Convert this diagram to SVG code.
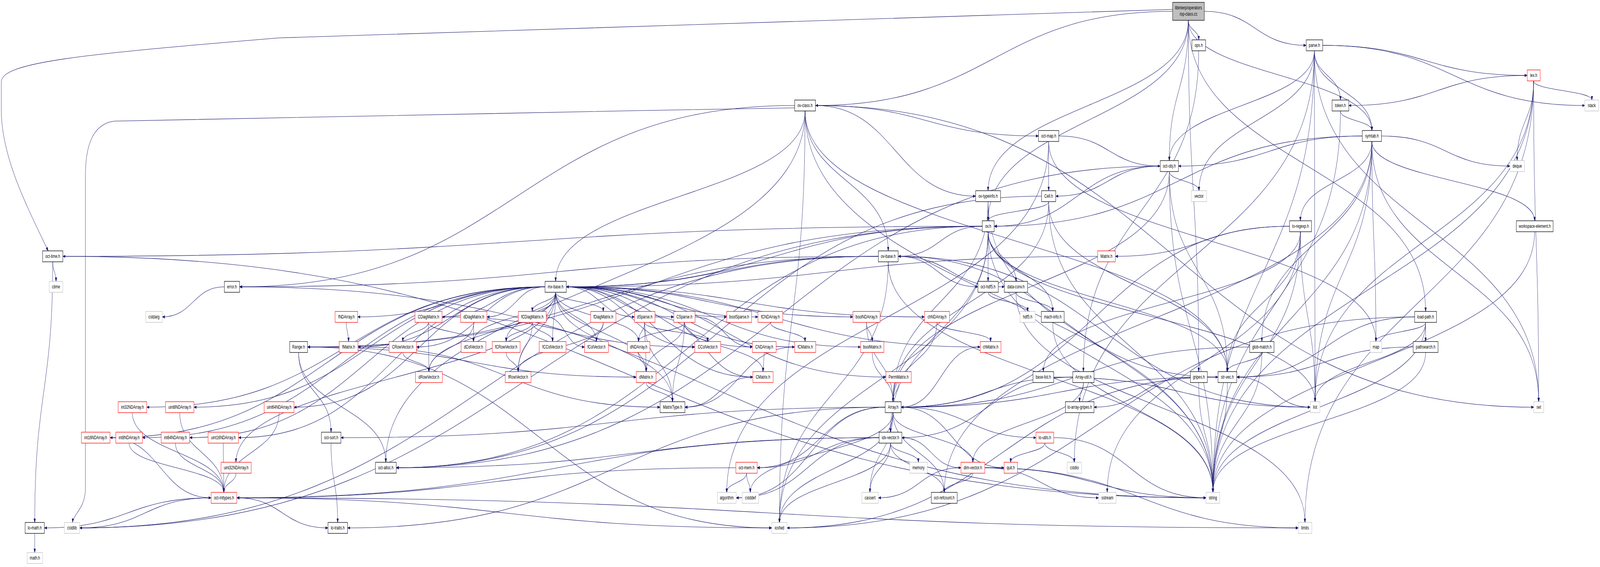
<svg xmlns="http://www.w3.org/2000/svg" width="6312" height="1451" viewBox="0 0 6312 1451" preserveAspectRatio="none" style="width:100vw;height:100vh;display:block">
<style>
.e path{fill:none;stroke:#191970;stroke-width:1.1;marker-end:url(#a)}
.nd rect{fill:#fff;stroke:#000;stroke-width:1.3}
.nd.r rect{stroke:#ff0000}
.nd.g rect{stroke:#bfbfbf}
.nd.top rect{fill:#bfbfbf}
text{font-family:"Liberation Sans",Arial,sans-serif;font-size:13.3px;fill:#000;text-anchor:middle}
</style>
<defs>
<marker id="a" markerUnits="userSpaceOnUse" markerWidth="11" markerHeight="8" refX="10" refY="4" orient="auto"><path d="M0,0.5 L10,4 L0,7.5 z" fill="#191970" stroke="#191970" stroke-width="1"/></marker>
</defs>
<rect width="6312" height="1451" fill="#fff"/>
<g id="edges" class="e">
<path d="M4626,24 L1100,97 C300,140 5,160 5,210 L5,280 C5,400 100,520 190,642"/>
<path d="M4688,52 C4688,502 4729,502 4729,951"/>
<path d="M4688,52 C4688,424 5624,424 5624,797"/>
<path d="M4688,52 C4688,231 4613,231 4613,411"/>
<path d="M4688,52 C4688,308 3898,308 3898,565"/>
<path d="M4626,29 C3921,29 3921,270 3217,270"/>
<path d="M4688,52 C4688,270 3898,270 3898,488"/>
<path d="M4688,52 C4688,77 4729,77 4729,102"/>
<path d="M4688,52 C4688,193 5412,193 5412,334"/>
<path d="M4751,29 C4952,29 4952,116 5153,116"/>
<path d="M4729,130 C4729,540 4274,540 4274,951"/>
<path d="M5218,116 C5621,116 5621,193 6025,193"/>
<path d="M5185,130 C5185,193 5288,193 5288,256"/>
<path d="M5185,130 C5185,232 5412,232 5412,334"/>
<path d="M5218,116 C5735,116 5735,270 6252,270"/>
<path d="M5185,130 C5185,270 4613,270 4613,411"/>
<path d="M5185,130 C5185,309 4730,309 4730,488"/>
<path d="M5185,130 C5185,656 4238,656 4238,1183"/>
<path d="M5185,130 C5185,695 4785,695 4785,1260"/>
<path d="M5185,130 C5185,579 5188,579 5188,1028"/>
<path d="M5185,130 C5185,579 6070,579 6070,1028"/>
<path d="M6025,193 C5673,193 5673,270 5321,270"/>
<path d="M6050,207 C6050,309 5985,309 5985,411"/>
<path d="M6050,207 C6050,232 6280,232 6280,256"/>
<path d="M6050,207 C6050,617 6070,617 6070,1028"/>
<path d="M6050,207 C6050,772 5148,772 5148,1337"/>
<path d="M6050,207 C6050,617 5188,617 5188,1028"/>
<path d="M6050,207 C6050,733 4785,733 4785,1260"/>
<path d="M5288,284 C5288,309 5412,309 5412,334"/>
<path d="M5288,284 C5288,772 4785,772 4785,1260"/>
<path d="M5450,348 C5703,348 5703,425 5957,425"/>
<path d="M5412,362 C5412,695 5188,695 5188,1028"/>
<path d="M5412,362 C5412,618 5428,618 5428,874"/>
<path d="M5412,362 C5412,695 6070,695 6070,1028"/>
<path d="M5412,362 C5412,811 4785,811 4785,1260"/>
<path d="M5412,362 C5412,618 4978,618 4978,874"/>
<path d="M5412,362 C5412,463 5130,463 5130,565"/>
<path d="M5374,348 C5011,348 5011,425 4649,425"/>
<path d="M5412,362 C5412,463 6054,463 6054,565"/>
<path d="M5412,362 C5412,811 3725,811 3725,1260"/>
<path d="M5374,348 C4648,348 4648,579 3922,579"/>
<path d="M4137,362 L4137,488"/>
<path d="M4177,348 C4377,348 4377,425 4577,425"/>
<path d="M4137,362 C4137,811 2867,811 2867,1260"/>
<path d="M4137,362 C4137,618 5428,618 5428,874"/>
<path d="M4613,439 C4613,849 4785,849 4785,1260"/>
<path d="M4613,439 C4613,463 4730,463 4730,488"/>
<path d="M4577,425 C3070,425 3070,1197 1563,1197"/>
<path d="M4613,439 C4613,695 4842,695 4842,951"/>
<path d="M4613,439 C4613,733 3523,733 3523,1028"/>
<path d="M4577,425 C4250,425 4250,579 3922,579"/>
<path d="M4577,425 C4371,425 4371,502 4165,502"/>
<path d="M3898,516 C3898,888 4785,888 4785,1260"/>
<path d="M3898,516 C3898,772 3523,772 3523,1028"/>
<path d="M3898,516 L3898,565"/>
<path d="M4137,516 C4137,888 4785,888 4785,1260"/>
<path d="M4137,516 C4137,772 3523,772 3523,1028"/>
<path d="M4109,502 C2836,502 2836,1197 1563,1197"/>
<path d="M4137,516 C4137,733 4842,733 4842,951"/>
<path d="M4137,516 C4137,540 3898,540 3898,565"/>
<path d="M3875,579 C2094,579 2094,1351 314,1351"/>
<path d="M3898,593 C3898,965 3075,965 3075,1337"/>
<path d="M3898,593 C3898,926 4785,926 4785,1260"/>
<path d="M3898,593 C3898,810 5188,810 5188,1028"/>
<path d="M3875,579 C2544,579 2544,888 1213,888"/>
<path d="M3898,593 C3898,656 4008,656 4008,720"/>
<path d="M3898,593 C3898,849 3513,849 3513,1106"/>
<path d="M3898,593 C3898,695 4153,695 4153,797"/>
<path d="M3875,579 C3054,579 3054,734 2234,734"/>
<path d="M3875,579 C2719,579 2719,1197 1563,1197"/>
<path d="M3875,579 C2061,579 2061,656 248,656"/>
<path d="M3898,593 C3898,772 4842,772 4842,951"/>
<path d="M3898,593 L3898,720"/>
<path d="M3875,579 C3709,579 3709,656 3543,656"/>
<path d="M3135,276 C2000,290 600,300 450,310 C360,318 337,380 337,450 L337,1250 C337,1300 290,1315 286,1337"/>
<path d="M3176,284 C3176,810 3075,810 3075,1337"/>
<path d="M3176,284 C3176,772 4785,772 4785,1260"/>
<path d="M3176,284 C3176,502 2192,502 2192,720"/>
<path d="M3176,284 C3176,617 4842,617 4842,951"/>
<path d="M3135,270 C2040,270 2040,734 945,734"/>
<path d="M3176,284 C3176,733 1522,733 1522,1183"/>
<path d="M3217,270 C3657,270 3657,348 4097,348"/>
<path d="M3176,284 C3176,463 3504,463 3504,642"/>
<path d="M3217,270 C3533,270 3533,502 3849,502"/>
<path d="M3217,270 C4634,270 4634,1042 6051,1042"/>
<path d="M5130,593 C5130,810 5188,810 5188,1028"/>
<path d="M5130,593 C5130,926 4368,926 4368,1260"/>
<path d="M5130,593 C5130,926 4785,926 4785,1260"/>
<path d="M5087,579 C4321,579 4321,1042 3555,1042"/>
<path d="M5087,579 C4743,579 4743,656 4400,656"/>
<path d="M5130,593 C5130,772 4116,772 4116,951"/>
<path d="M5130,593 C5130,772 4842,772 4842,951"/>
<path d="M6054,593 C6054,926 4785,926 4785,1260"/>
<path d="M208,670 C208,695 221,695 221,720"/>
<path d="M248,656 C2503,656 2503,1274 4758,1274"/>
<path d="M208,670 C208,1003 137,1003 137,1337"/>
<path d="M3465,656 C1890,656 1890,1351 314,1351"/>
<path d="M3504,670 C3504,1003 3075,1003 3075,1337"/>
<path d="M3543,656 C4356,656 4356,1042 5169,1042"/>
<path d="M3504,670 C3504,965 4785,965 4785,1260"/>
<path d="M3465,656 C2339,656 2339,888 1213,888"/>
<path d="M3543,656 C3752,656 3752,734 3962,734"/>
<path d="M3465,656 C2849,656 2849,734 2234,734"/>
<path d="M3543,656 C4174,656 4174,965 4805,965"/>
<path d="M3465,656 C2205,656 2205,734 945,734"/>
<path d="M3543,656 C3700,656 3700,734 3858,734"/>
<path d="M4330,656 C3282,656 3282,734 2234,734"/>
<path d="M885,734 C762,734 762,811 640,811"/>
<path d="M945,734 C2851,734 2851,1274 4758,1274"/>
<path d="M2192,748 C2192,888 2653,888 2653,1028"/>
<path d="M2234,734 C2814,734 2814,888 3395,888"/>
<path d="M2234,734 C3050,734 3050,888 3867,888"/>
<path d="M2192,748 C2192,849 2549,849 2549,951"/>
<path d="M2234,734 C2602,734 2602,965 2970,965"/>
<path d="M2150,734 C1781,734 1781,888 1412,888"/>
<path d="M2234,734 C2684,734 2684,888 3135,888"/>
<path d="M2192,748 C2192,811 1868,811 1868,874"/>
<path d="M2234,734 C2487,734 2487,888 2741,888"/>
<path d="M2192,748 C2192,811 2353,811 2353,874"/>
<path d="M2192,748 C2192,811 2180,811 2180,874"/>
<path d="M2192,748 C2192,849 1692,849 1692,951"/>
<path d="M2150,734 C1896,734 1896,888 1643,888"/>
<path d="M2192,748 C2192,849 2044,849 2044,951"/>
<path d="M2192,748 C2192,811 1997,811 1997,874"/>
<path d="M2150,734 C2035,734 2035,811 1921,811"/>
<path d="M2150,734 C1947,734 1947,811 1744,811"/>
<path d="M2192,748 C2192,772 2380,772 2380,797"/>
<path d="M2192,748 C2192,772 2100,772 2100,797"/>
<path d="M2234,734 C2864,734 2864,965 3495,965"/>
<path d="M2234,734 C2799,734 2799,811 3365,811"/>
<path d="M2234,734 C2940,734 2940,811 3647,811"/>
<path d="M2192,748 C2192,811 2519,811 2519,874"/>
<path d="M2234,734 C2601,734 2601,888 2968,888"/>
<path d="M2150,734 C1780,734 1780,811 1411,811"/>
<path d="M2234,734 C2612,734 2612,811 2990,811"/>
<path d="M2150,734 C1356,734 1356,1120 562,1120"/>
<path d="M2150,734 C1292,734 1292,1120 434,1120"/>
<path d="M2150,734 C1365,734 1365,1042 579,1042"/>
<path d="M2150,734 C1449,734 1449,1120 748,1120"/>
<path d="M2150,734 C1458,734 1458,1042 765,1042"/>
<path d="M2150,734 C1546,734 1546,1120 941,1120"/>
<path d="M2192,748 C2192,965 931,965 931,1183"/>
<path d="M2150,734 C1655,734 1655,1042 1160,1042"/>
<path d="M2234,734 C2551,734 2551,811 2867,811"/>
<path d="M2234,734 C2369,734 2369,811 2503,811"/>
<path d="M2234,734 C2446,734 2446,811 2658,811"/>
<path d="M3898,748 C3898,772 4054,772 4054,797"/>
<path d="M4008,748 C4008,1042 5148,1042 5148,1337"/>
<path d="M4008,748 C4008,772 4153,772 4153,797"/>
<path d="M4153,825 C4153,1042 4785,1042 4785,1260"/>
<path d="M1366,825 C1366,849 1375,849 1375,874"/>
<path d="M1690,825 C1690,849 1589,849 1589,874"/>
<path d="M1690,825 C1690,888 1692,888 1692,951"/>
<path d="M1690,825 C1690,849 1868,849 1868,874"/>
<path d="M1744,811 C2242,811 2242,888 2741,888"/>
<path d="M1869,825 L1868,874"/>
<path d="M1869,825 C1869,888 1692,888 1692,951"/>
<path d="M2100,825 C2100,849 1997,849 1997,874"/>
<path d="M2100,825 C2100,888 2044,888 2044,951"/>
<path d="M2100,825 C2100,849 2180,849 2180,874"/>
<path d="M2155,811 C2230,811 2230,888 2306,888"/>
<path d="M2380,825 C2380,849 2353,849 2353,874"/>
<path d="M2380,825 C2380,888 2044,888 2044,951"/>
<path d="M2543,825 C2543,849 2519,849 2519,874"/>
<path d="M2543,825 C2543,888 2549,888 2549,951"/>
<path d="M2543,825 C2543,926 2653,926 2653,1028"/>
<path d="M2543,825 C2543,849 2792,849 2792,874"/>
<path d="M2584,811 C2777,811 2777,965 2970,965"/>
<path d="M2700,825 C2700,849 2519,849 2519,874"/>
<path d="M2700,825 C2700,849 2792,849 2792,874"/>
<path d="M2700,825 C2700,888 2549,888 2549,951"/>
<path d="M2700,825 C2700,926 2653,926 2653,1028"/>
<path d="M2742,811 C2855,811 2855,888 2968,888"/>
<path d="M2700,825 C2700,888 3010,888 3010,951"/>
<path d="M3039,825 C3039,849 3176,849 3176,874"/>
<path d="M3418,825 C3418,849 3441,849 3441,874"/>
<path d="M3418,825 C3418,926 3523,926 3523,1028"/>
<path d="M3696,825 C3696,849 3908,849 3908,874"/>
<path d="M3696,825 C3696,926 3523,926 3523,1028"/>
<path d="M5624,825 C5624,849 5428,849 5428,874"/>
<path d="M5624,825 L5624,874"/>
<path d="M5581,811 C4343,811 4343,1351 3105,1351"/>
<path d="M5624,825 C5624,926 5188,926 5188,1028"/>
<path d="M5624,825 C5624,1042 4785,1042 4785,1260"/>
<path d="M5581,811 C5230,811 5230,965 4879,965"/>
<path d="M1213,888 C2129,888 2129,1351 3045,1351"/>
<path d="M1213,888 C1862,888 1862,965 2510,965"/>
<path d="M1178,902 C1178,1004 1306,1004 1306,1106"/>
<path d="M1178,902 C1178,1042 1522,1042 1522,1183"/>
<path d="M1412,888 C2008,888 2008,1042 2604,1042"/>
<path d="M1589,902 C1589,926 1692,926 1692,951"/>
<path d="M1997,902 C1997,926 2044,926 2044,951"/>
<path d="M2519,902 C2519,926 2549,926 2549,951"/>
<path d="M3015,902 L3010,951"/>
<path d="M3135,888 C2918,888 2918,1042 2702,1042"/>
<path d="M3441,902 C3441,965 3523,965 3523,1028"/>
<path d="M3867,888 C3711,888 3711,1042 3555,1042"/>
<path d="M4978,902 C4978,1081 4785,1081 4785,1260"/>
<path d="M4930,888 C4242,888 4242,1042 3555,1042"/>
<path d="M4978,902 C4978,926 4842,926 4842,951"/>
<path d="M5624,902 C5624,1081 4785,1081 4785,1260"/>
<path d="M5575,888 C5227,888 5227,965 4879,965"/>
<path d="M2549,979 C2549,1003 2653,1003 2653,1028"/>
<path d="M2970,965 C2836,965 2836,1042 2702,1042"/>
<path d="M3545,979 C3545,1003 3523,1003 3523,1028"/>
<path d="M4157,965 C4663,965 4663,1042 5169,1042"/>
<path d="M4232,965 C3893,965 3893,1042 3555,1042"/>
<path d="M4274,979 C4274,1081 3838,1081 3838,1183"/>
<path d="M4232,965 C3895,965 3895,1120 3558,1120"/>
<path d="M4274,979 C4274,1003 4259,1003 4259,1028"/>
<path d="M4729,979 C4729,1119 4785,1119 4785,1260"/>
<path d="M4696,965 C4506,965 4506,1042 4316,1042"/>
<path d="M4805,965 C3955,965 3955,1351 3105,1351"/>
<path d="M4879,965 C5024,965 5024,1042 5169,1042"/>
<path d="M4842,979 C4842,1119 4785,1119 4785,1260"/>
<path d="M4805,965 C4180,965 4180,1042 3555,1042"/>
<path d="M522,1056 C522,1158 883,1158 883,1260"/>
<path d="M709,1056 C709,1158 883,1158 883,1260"/>
<path d="M1101,1056 C1101,1158 883,1158 883,1260"/>
<path d="M434,1120 C633,1120 633,1274 833,1274"/>
<path d="M509,1134 C509,1197 883,1197 883,1260"/>
<path d="M692,1134 C692,1197 883,1197 883,1260"/>
<path d="M881,1134 C881,1197 883,1197 883,1260"/>
<path d="M931,1211 C931,1235 883,1235 883,1260"/>
<path d="M3523,1056 C3523,1158 3432,1158 3432,1260"/>
<path d="M3523,1056 C3523,1158 2960,1158 2960,1260"/>
<path d="M3492,1042 C3198,1042 3198,1274 2904,1274"/>
<path d="M3523,1056 C3523,1196 3075,1196 3075,1337"/>
<path d="M3523,1056 C3523,1119 3838,1119 3838,1183"/>
<path d="M3523,1056 C3523,1081 3513,1081 3513,1106"/>
<path d="M3492,1042 C2431,1042 2431,1351 1371,1351"/>
<path d="M3555,1042 C3821,1042 3821,1120 4087,1120"/>
<path d="M3492,1042 C2418,1042 2418,1120 1345,1120"/>
<path d="M3555,1042 C3758,1042 3758,1197 3961,1197"/>
<path d="M3492,1042 C3239,1042 3239,1197 2987,1197"/>
<path d="M3523,1056 C3523,1158 3725,1158 3725,1260"/>
<path d="M3513,1134 C3513,1197 3432,1197 3432,1260"/>
<path d="M3468,1120 C3186,1120 3186,1274 2904,1274"/>
<path d="M3513,1134 C3513,1235 3075,1235 3075,1337"/>
<path d="M3513,1134 C3513,1158 3623,1158 3623,1183"/>
<path d="M3558,1120 C3674,1120 3674,1197 3791,1197"/>
<path d="M3468,1120 C2201,1120 2201,1274 934,1274"/>
<path d="M3468,1120 C2515,1120 2515,1197 1563,1197"/>
<path d="M3468,1120 C3227,1120 3227,1197 2987,1197"/>
<path d="M3513,1134 C3513,1197 3725,1197 3725,1260"/>
<path d="M4122,1134 C4122,1158 4238,1158 4238,1183"/>
<path d="M4157,1120 C4457,1120 4457,1274 4758,1274"/>
<path d="M4122,1134 C4122,1158 3987,1158 3987,1183"/>
<path d="M1306,1134 C1306,1235 1332,1235 1332,1337"/>
<path d="M2945,1211 C2945,1235 2960,1235 2960,1260"/>
<path d="M2945,1211 C2945,1235 2867,1235 2867,1260"/>
<path d="M2903,1197 C1918,1197 1918,1274 934,1274"/>
<path d="M3791,1197 C3628,1197 3628,1274 3465,1274"/>
<path d="M3885,1197 C4503,1197 4503,1351 5122,1351"/>
<path d="M3885,1197 C4109,1197 4109,1274 4334,1274"/>
<path d="M3885,1197 C4321,1197 4321,1274 4758,1274"/>
<path d="M3838,1211 C3838,1235 3725,1235 3725,1260"/>
<path d="M833,1274 C573,1274 573,1351 314,1351"/>
<path d="M934,1274 C3028,1274 3028,1351 5122,1351"/>
<path d="M934,1274 C1990,1274 1990,1351 3045,1351"/>
<path d="M934,1274 C1114,1274 1114,1351 1294,1351"/>
<path d="M833,1274 C504,1274 504,1351 175,1351"/>
<path d="M137,1365 L137,1414"/>
</g>
<g id="nodes">
<g id="n-op-class" class="nd top"><rect x="4626" y="6" width="125" height="46"/><text x="4688.5" y="24">libinterp/operators</text><text x="4688.5" y="40">/op-class.cc</text></g>
<g id="n-ops" class="nd"><rect x="4702" y="102" width="54" height="28"/><text x="4729" y="120.5">ops.h</text></g>
<g id="n-parse" class="nd"><rect x="5153" y="102" width="65" height="28"/><text x="5185.5" y="120.5">parse.h</text></g>
<g id="n-lex" class="nd r"><rect x="6025" y="179" width="51" height="28"/><text x="6050.5" y="197.5">lex.h</text></g>
<g id="n-ov-class" class="nd"><rect x="3135" y="256" width="82" height="28"/><text x="3176" y="274.5">ov-class.h</text></g>
<g id="n-token" class="nd"><rect x="5255" y="256" width="66" height="28"/><text x="5288" y="274.5">token.h</text></g>
<g id="n-stack" class="nd g"><rect x="6252" y="256" width="55" height="28"/><text x="6279.5" y="274.5">stack</text></g>
<g id="n-oct-map" class="nd"><rect x="4097" y="334" width="80" height="28"/><text x="4137" y="352.5">oct-map.h</text></g>
<g id="n-symtab" class="nd"><rect x="5374" y="334" width="76" height="28"/><text x="5412" y="352.5">symtab.h</text></g>
<g id="n-oct-obj" class="nd"><rect x="4577" y="411" width="72" height="28"/><text x="4613" y="429.5">oct-obj.h</text></g>
<g id="n-deque" class="nd g"><rect x="5957" y="411" width="57" height="28"/><text x="5985.5" y="429.5">deque</text></g>
<g id="n-ov-typeinfo" class="nd"><rect x="3849" y="488" width="98" height="28"/><text x="3898" y="506.5">ov-typeinfo.h</text></g>
<g id="n-Cell" class="nd"><rect x="4109" y="488" width="56" height="28"/><text x="4137" y="506.5">Cell.h</text></g>
<g id="n-vector" class="nd g"><rect x="4700" y="488" width="60" height="28"/><text x="4730" y="506.5">vector</text></g>
<g id="n-ov" class="nd"><rect x="3875" y="565" width="47" height="28"/><text x="3898.5" y="583.5">ov.h</text></g>
<g id="n-lo-regexp" class="nd"><rect x="5087" y="565" width="87" height="28"/><text x="5130.5" y="583.5">lo-regexp.h</text></g>
<g id="n-workspace-element" class="nd"><rect x="5982" y="565" width="145" height="28"/><text x="6054.5" y="583.5">workspace-element.h</text></g>
<g id="n-oct-time" class="nd"><rect x="168" y="642" width="80" height="28"/><text x="208" y="660.5">oct-time.h</text></g>
<g id="n-ov-base" class="nd"><rect x="3465" y="642" width="78" height="28"/><text x="3504" y="660.5">ov-base.h</text></g>
<g id="n-Matrix" class="nd r"><rect x="4330" y="642" width="70" height="28"/><text x="4365" y="660.5">Matrix.h</text></g>
<g id="n-ctime" class="nd g"><rect x="194" y="720" width="54" height="28"/><text x="221" y="738.5">ctime</text></g>
<g id="n-error" class="nd"><rect x="885" y="720" width="60" height="28"/><text x="915" y="738.5">error.h</text></g>
<g id="n-mx-base" class="nd"><rect x="2150" y="720" width="84" height="28"/><text x="2192" y="738.5">mx-base.h</text></g>
<g id="n-oct-hdf5" class="nd"><rect x="3858" y="720" width="80" height="28"/><text x="3898" y="738.5">oct-hdf5.h</text></g>
<g id="n-data-conv" class="nd"><rect x="3962" y="720" width="92" height="28"/><text x="4008" y="738.5">data-conv.h</text></g>
<g id="n-cstdarg" class="nd g"><rect x="575" y="797" width="65" height="28"/><text x="607.5" y="815.5">cstdarg</text></g>
<g id="n-fNDArray" class="nd r"><rect x="1322" y="797" width="89" height="28"/><text x="1366.5" y="815.5">fNDArray.h</text></g>
<g id="n-CDiagMatrix" class="nd r"><rect x="1637" y="797" width="107" height="28"/><text x="1690.5" y="815.5">CDiagMatrix.h</text></g>
<g id="n-dDiagMatrix" class="nd r"><rect x="1817" y="797" width="104" height="28"/><text x="1869" y="815.5">dDiagMatrix.h</text></g>
<g id="n-fCDiagMatrix" class="nd r"><rect x="2045" y="797" width="110" height="28"/><text x="2100" y="815.5">fCDiagMatrix.h</text></g>
<g id="n-fDiagMatrix" class="nd r"><rect x="2330" y="797" width="100" height="28"/><text x="2380" y="815.5">fDiagMatrix.h</text></g>
<g id="n-dSparse" class="nd r"><rect x="2503" y="797" width="81" height="28"/><text x="2543.5" y="815.5">dSparse.h</text></g>
<g id="n-CSparse" class="nd r"><rect x="2658" y="797" width="84" height="28"/><text x="2700" y="815.5">CSparse.h</text></g>
<g id="n-boolSparse" class="nd r"><rect x="2867" y="797" width="98" height="28"/><text x="2916" y="815.5">boolSparse.h</text></g>
<g id="n-fCNDArray" class="nd r"><rect x="2990" y="797" width="98" height="28"/><text x="3039" y="815.5">fCNDArray.h</text></g>
<g id="n-boolNDArray" class="nd r"><rect x="3365" y="797" width="107" height="28"/><text x="3418.5" y="815.5">boolNDArray.h</text></g>
<g id="n-chNDArray" class="nd r"><rect x="3647" y="797" width="99" height="28"/><text x="3696.5" y="815.5">chNDArray.h</text></g>
<g id="n-hdf5" class="nd g"><rect x="4024" y="797" width="60" height="28"/><text x="4054" y="815.5">hdf5.h</text></g>
<g id="n-mach-info" class="nd"><rect x="4108" y="797" width="90" height="28"/><text x="4153" y="815.5">mach-info.h</text></g>
<g id="n-load-path" class="nd"><rect x="5581" y="797" width="86" height="28"/><text x="5624" y="815.5">load-path.h</text></g>
<g id="n-Range" class="nd"><rect x="1143" y="874" width="70" height="28"/><text x="1178" y="892.5">Range.h</text></g>
<g id="n-fMatrix" class="nd r"><rect x="1338" y="874" width="74" height="28"/><text x="1375" y="892.5">fMatrix.h</text></g>
<g id="n-CRowVector" class="nd r"><rect x="1535" y="874" width="108" height="28"/><text x="1589" y="892.5">CRowVector.h</text></g>
<g id="n-dColVector" class="nd r"><rect x="1819" y="874" width="98" height="28"/><text x="1868" y="892.5">dColVector.h</text></g>
<g id="n-fCRowVector" class="nd r"><rect x="1942" y="874" width="110" height="28"/><text x="1997" y="892.5">fCRowVector.h</text></g>
<g id="n-fCColVector" class="nd r"><rect x="2127" y="874" width="106" height="28"/><text x="2180" y="892.5">fCColVector.h</text></g>
<g id="n-fColVector" class="nd r"><rect x="2306" y="874" width="94" height="28"/><text x="2353" y="892.5">fColVector.h</text></g>
<g id="n-dNDArray" class="nd r"><rect x="2475" y="874" width="89" height="28"/><text x="2519.5" y="892.5">dNDArray.h</text></g>
<g id="n-CColVector" class="nd r"><rect x="2741" y="874" width="102" height="28"/><text x="2792" y="892.5">CColVector.h</text></g>
<g id="n-CNDArray" class="nd r"><rect x="2968" y="874" width="94" height="28"/><text x="3015" y="892.5">CNDArray.h</text></g>
<g id="n-fCMatrix" class="nd r"><rect x="3135" y="874" width="83" height="28"/><text x="3176.5" y="892.5">fCMatrix.h</text></g>
<g id="n-boolMatrix" class="nd r"><rect x="3395" y="874" width="92" height="28"/><text x="3441" y="892.5">boolMatrix.h</text></g>
<g id="n-chMatrix" class="nd r"><rect x="3867" y="874" width="82" height="28"/><text x="3908" y="892.5">chMatrix.h</text></g>
<g id="n-glob-match" class="nd"><rect x="4930" y="874" width="96" height="28"/><text x="4978" y="892.5">glob-match.h</text></g>
<g id="n-map" class="nd g"><rect x="5405" y="874" width="46" height="28"/><text x="5428" y="892.5">map</text></g>
<g id="n-pathsearch" class="nd"><rect x="5575" y="874" width="98" height="28"/><text x="5624" y="892.5">pathsearch.h</text></g>
<g id="n-dRowVector" class="nd r"><rect x="1639" y="951" width="106" height="28"/><text x="1692" y="969.5">dRowVector.h</text></g>
<g id="n-fRowVector" class="nd r"><rect x="1993" y="951" width="102" height="28"/><text x="2044" y="969.5">fRowVector.h</text></g>
<g id="n-dMatrix" class="nd r"><rect x="2510" y="951" width="78" height="28"/><text x="2549" y="969.5">dMatrix.h</text></g>
<g id="n-CMatrix" class="nd r"><rect x="2970" y="951" width="80" height="28"/><text x="3010" y="969.5">CMatrix.h</text></g>
<g id="n-PermMatrix" class="nd r"><rect x="3495" y="951" width="100" height="28"/><text x="3545" y="969.5">PermMatrix.h</text></g>
<g id="n-base-list" class="nd"><rect x="4075" y="951" width="82" height="28"/><text x="4116" y="969.5">base-list.h</text></g>
<g id="n-Array-util" class="nd"><rect x="4232" y="951" width="84" height="28"/><text x="4274" y="969.5">Array-util.h</text></g>
<g id="n-gripes" class="nd"><rect x="4696" y="951" width="67" height="28"/><text x="4729.5" y="969.5">gripes.h</text></g>
<g id="n-str-vec" class="nd"><rect x="4805" y="951" width="74" height="28"/><text x="4842" y="969.5">str-vec.h</text></g>
<g id="n-int32NDArray" class="nd r"><rect x="466" y="1028" width="113" height="28"/><text x="522.5" y="1046.5">int32NDArray.h</text></g>
<g id="n-uint8NDArray" class="nd r"><rect x="653" y="1028" width="112" height="28"/><text x="709" y="1046.5">uint8NDArray.h</text></g>
<g id="n-uint64NDArray" class="nd r"><rect x="1042" y="1028" width="118" height="28"/><text x="1101" y="1046.5">uint64NDArray.h</text></g>
<g id="n-MatrixType" class="nd"><rect x="2604" y="1028" width="98" height="28"/><text x="2653" y="1046.5">MatrixType.h</text></g>
<g id="n-Array" class="nd"><rect x="3492" y="1028" width="63" height="28"/><text x="3523.5" y="1046.5">Array.h</text></g>
<g id="n-lo-array-gripes" class="nd"><rect x="4203" y="1028" width="113" height="28"/><text x="4259.5" y="1046.5">lo-array-gripes.h</text></g>
<g id="n-list" class="nd g"><rect x="5169" y="1028" width="38" height="28"/><text x="5188" y="1046.5">list</text></g>
<g id="n-set" class="nd g"><rect x="6051" y="1028" width="39" height="28"/><text x="6070.5" y="1046.5">set</text></g>
<g id="n-int16NDArray" class="nd r"><rect x="321" y="1106" width="113" height="28"/><text x="377.5" y="1124.5">int16NDArray.h</text></g>
<g id="n-int8NDArray" class="nd r"><rect x="457" y="1106" width="105" height="28"/><text x="509.5" y="1124.5">int8NDArray.h</text></g>
<g id="n-int64NDArray" class="nd r"><rect x="636" y="1106" width="112" height="28"/><text x="692" y="1124.5">int64NDArray.h</text></g>
<g id="n-uint16NDArray" class="nd r"><rect x="821" y="1106" width="120" height="28"/><text x="881" y="1124.5">uint16NDArray.h</text></g>
<g id="n-oct-sort" class="nd"><rect x="1268" y="1106" width="77" height="28"/><text x="1306.5" y="1124.5">oct-sort.h</text></g>
<g id="n-idx-vector" class="nd"><rect x="3468" y="1106" width="90" height="28"/><text x="3513" y="1124.5">idx-vector.h</text></g>
<g id="n-lo-utils" class="nd r"><rect x="4087" y="1106" width="70" height="28"/><text x="4122" y="1124.5">lo-utils.h</text></g>
<g id="n-uint32NDArray" class="nd r"><rect x="872" y="1183" width="119" height="28"/><text x="931.5" y="1201.5">uint32NDArray.h</text></g>
<g id="n-oct-alloc" class="nd"><rect x="1481" y="1183" width="82" height="28"/><text x="1522" y="1201.5">oct-alloc.h</text></g>
<g id="n-oct-mem" class="nd r"><rect x="2903" y="1183" width="84" height="28"/><text x="2945" y="1201.5">oct-mem.h</text></g>
<g id="n-memory" class="nd g"><rect x="3589" y="1183" width="69" height="28"/><text x="3623.5" y="1201.5">memory</text></g>
<g id="n-dim-vector" class="nd r"><rect x="3791" y="1183" width="94" height="28"/><text x="3838" y="1201.5">dim-vector.h</text></g>
<g id="n-quit" class="nd r"><rect x="3961" y="1183" width="53" height="28"/><text x="3987.5" y="1201.5">quit.h</text></g>
<g id="n-cstdio" class="nd g"><rect x="4210" y="1183" width="57" height="28"/><text x="4238.5" y="1201.5">cstdio</text></g>
<g id="n-oct-inttypes" class="nd r"><rect x="833" y="1260" width="101" height="28"/><text x="883.5" y="1278.5">oct-inttypes.h</text></g>
<g id="n-algorithm" class="nd g"><rect x="2830" y="1260" width="74" height="28"/><text x="2867" y="1278.5">algorithm</text></g>
<g id="n-cstddef" class="nd g"><rect x="2928" y="1260" width="65" height="28"/><text x="2960.5" y="1278.5">cstddef</text></g>
<g id="n-cassert" class="nd g"><rect x="3400" y="1260" width="65" height="28"/><text x="3432.5" y="1278.5">cassert</text></g>
<g id="n-oct-refcount" class="nd"><rect x="3674" y="1260" width="102" height="28"/><text x="3725" y="1278.5">oct-refcount.h</text></g>
<g id="n-sstream" class="nd g"><rect x="4334" y="1260" width="69" height="28"/><text x="4368.5" y="1278.5">sstream</text></g>
<g id="n-string" class="nd g"><rect x="4758" y="1260" width="54" height="28"/><text x="4785" y="1278.5">string</text></g>
<g id="n-lo-math" class="nd"><rect x="99" y="1337" width="76" height="28"/><text x="137" y="1355.5">lo-math.h</text></g>
<g id="n-cstdlib" class="nd g"><rect x="254" y="1337" width="60" height="28"/><text x="284" y="1355.5">cstdlib</text></g>
<g id="n-lo-traits" class="nd"><rect x="1294" y="1337" width="77" height="28"/><text x="1332.5" y="1355.5">lo-traits.h</text></g>
<g id="n-iosfwd" class="nd g"><rect x="3045" y="1337" width="60" height="28"/><text x="3075" y="1355.5">iosfwd</text></g>
<g id="n-limits" class="nd g"><rect x="5122" y="1337" width="53" height="28"/><text x="5148.5" y="1355.5">limits</text></g>
<g id="n-math" class="nd g"><rect x="107" y="1414" width="61" height="28"/><text x="137.5" y="1432.5">math.h</text></g>
</g>
</svg>
